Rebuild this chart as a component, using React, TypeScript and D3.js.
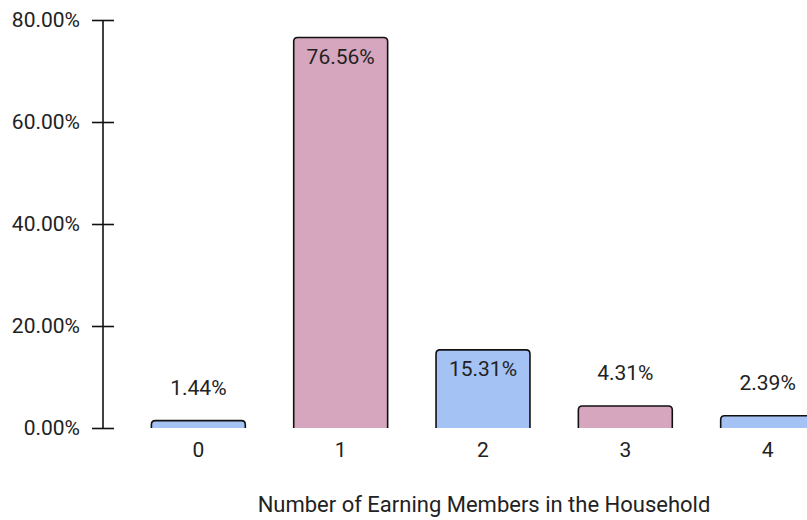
import React, { useEffect, useRef } from 'react'
import * as d3 from 'd3'

const categories = ['0', '1', '2', '3', '4']
const shares = [1.44, 76.56, 15.31, 4.31, 2.39]
const barColors = ['#a4c2f4', '#d5a6bd', '#a4c2f4', '#d5a6bd', '#a4c2f4']
const yTicks = [0, 20, 40, 60, 80]
const xTitle = 'Number of Earning Members in the Household'

const width = 807
const height = 520
const font = 'Roboto, "Noto Sans", sans-serif'

export default function App() {
  const ref = useRef<SVGSVGElement>(null)

  useEffect(() => {
    const svg = d3.select(ref.current)
    svg.selectAll('*').remove()

    const axisX = 103
    const top = 20
    const bottom = 428

    const yScale = d3.scaleLinear().domain([0, 80]).range([bottom, top])
    const xScale = d3.scaleBand()
      .domain(categories)
      .range([axisX, 863])
      .paddingInner(0.34)
      .paddingOuter(0.34)

    const rows = categories.map((c, i) => ({ cat: c, value: shares[i], color: barColors[i] }))

    // bars with rounded top corners
    const r = 4
    const barPath = (x: number, y: number, w: number, h: number) => {
      const rr = Math.min(r, h, w / 2)
      return `M${x},${y + h}V${y + rr}Q${x},${y} ${x + rr},${y}H${x + w - rr}Q${x + w},${y} ${x + w},${y + rr}V${y + h}`
    }

    svg.append('g')
      .selectAll('path')
      .data(rows).enter()
      .append('path')
      .attr('d', d => barPath(xScale(d.cat)!, yScale(d.value), xScale.bandwidth(), bottom - yScale(d.value)))
      .attr('fill', d => d.color)
      .attr('stroke', '#111')
      .attr('stroke-width', 1.6)

    // value labels: inside the bar if it is tall enough, otherwise above
    svg.append('g')
      .selectAll('text')
      .data(rows).enter()
      .append('text')
      .attr('x', d => xScale(d.cat)! + xScale.bandwidth() / 2)
      .attr('y', d => {
        const t = yScale(d.value)
        return bottom - t > 50 ? t + 26 : t - 26
      })
      .attr('text-anchor', 'middle')
      .attr('font-family', font)
      .attr('font-size', 21)
      .attr('fill', '#222')
      .text(d => d.value.toFixed(2) + '%')

    // y axis, ticks cross the line
    const yAxis = d3.axisLeft(yScale)
      .tickValues(yTicks)
      .tickSize(11)
      .tickPadding(12)
      .tickFormat(v => (v as number).toFixed(2) + '%')

    const yg = svg.append('g')
      .attr('transform', `translate(${axisX},0)`)
      .call(yAxis)
    yg.select('.domain')
      .attr('d', `M0,${top}V${bottom}`)
      .attr('stroke', '#111')
      .attr('stroke-width', 1.6)
    yg.selectAll('.tick line')
      .attr('x1', -11)
      .attr('x2', 11)
      .attr('stroke', '#111')
      .attr('stroke-width', 1.6)
    yg.selectAll('.tick text')
      .attr('font-family', font)
      .attr('font-size', 21)
      .attr('fill', '#222')

    // x labels, no axis line
    const xg = svg.append('g')
      .attr('transform', `translate(0,${bottom})`)
      .call(d3.axisBottom(xScale).tickSize(0).tickPadding(14))
    xg.select('.domain').remove()
    xg.selectAll('.tick text')
      .attr('font-family', font)
      .attr('font-size', 21)
      .attr('fill', '#222')

    svg.append('text')
      .attr('x', 484)
      .attr('y', 512)
      .attr('text-anchor', 'middle')
      .attr('font-family', font)
      .attr('font-size', 22)
      .attr('fill', '#222')
      .text(xTitle)
  }, [])

  return (
    <svg
      ref={ref}
      width={width}
      height={height}
      style={{ position: 'absolute', left: 0, top: 0, background: '#fff' }}
    />
  )
}
